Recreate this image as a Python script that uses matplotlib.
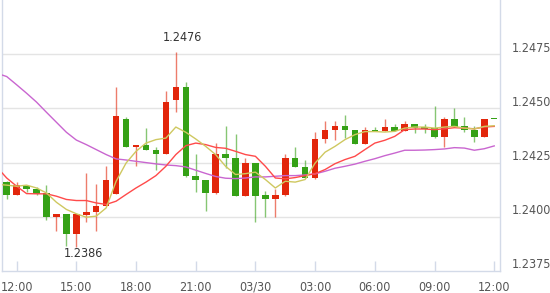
import matplotlib
matplotlib.use("Agg")
import matplotlib.pyplot as plt
from matplotlib import font_manager
from matplotlib.transforms import ScaledTranslation
import numpy as np

# ---------------- data ----------------
tick_labels = ["12:00", "15:00", "18:00", "21:00", "03/30", "03:00", "06:00", "09:00", "12:00"]
tick_index = [1, 7, 13, 19, 25, 31, 37, 43, 49]

opens = [1.24161, 1.24100, 1.24144, 1.24129, 1.24112, 1.23998, 1.24011, 1.23919, 1.24008, 1.24021,
         1.24052, 1.24107, 1.24452, 1.24320, 1.24333, 1.24308, 1.24288, 1.24538, 1.24600, 1.24190,
         1.24172, 1.24110, 1.24290, 1.24273, 1.24098, 1.24248, 1.24101, 1.24080, 1.24100, 1.24273,
         1.24232, 1.24178, 1.24357, 1.24399, 1.24420, 1.24402, 1.24337, 1.24402, 1.24397, 1.24413,
         1.24397, 1.24429, 1.24413, 1.24409, 1.24368, 1.24452, 1.24420, 1.24402, 1.24368, 1.24452]
highs = [1.24165, 1.24160, 1.24146, 1.24137, 1.24146, 1.24011, 1.24011, 1.24011, 1.24202, 1.24153,
         1.24233, 1.24598, 1.24459, 1.24333, 1.24410, 1.24324, 1.24581, 1.24761, 1.24623, 1.24291,
         1.24172, 1.24340, 1.24420, 1.24383, 1.24273, 1.24248, 1.24120, 1.24126, 1.24290, 1.24324,
         1.24264, 1.24393, 1.24443, 1.24443, 1.24471, 1.24402, 1.24413, 1.24413, 1.24452, 1.24429,
         1.24443, 1.24429, 1.24429, 1.24512, 1.24460, 1.24503, 1.24460, 1.24417, 1.24452, 1.24452]
lows = [1.24084, 1.24100, 1.24113, 1.24100, 1.23985, 1.23934, 1.23866, 1.23860, 1.23975, 1.23934,
        1.24052, 1.24103, 1.24320, 1.24233, 1.24307, 1.24215, 1.24288, 1.24483, 1.24183, 1.24113,
        1.24026, 1.24106, 1.24224, 1.24095, 1.24098, 1.23975, 1.24000, 1.24000, 1.24095, 1.24229,
        1.24178, 1.24175, 1.24342, 1.24353, 1.24363, 1.24335, 1.24335, 1.24396, 1.24394, 1.24397,
        1.24397, 1.24387, 1.24387, 1.24363, 1.24322, 1.24414, 1.24393, 1.24344, 1.24368, 1.24452]
closes = [1.24100, 1.24146, 1.24129, 1.24107, 1.23998, 1.24011, 1.23919, 1.24011, 1.24023, 1.24052,
          1.24172, 1.24463, 1.24320, 1.24333, 1.24307, 1.24288, 1.24531, 1.24600, 1.24187, 1.24169,
          1.24110, 1.24290, 1.24270, 1.24098, 1.24248, 1.24098, 1.24080, 1.24101, 1.24273, 1.24229,
          1.24178, 1.24360, 1.24402, 1.24420, 1.24399, 1.24337, 1.24402, 1.24396, 1.24413, 1.24397,
          1.24429, 1.24409, 1.24406, 1.24368, 1.24452, 1.24414, 1.24399, 1.24368, 1.24452, 1.24452]

# moving-average lines, first value belongs to the (hidden) candle before the first one
ma_short = [1.24150, 1.24146, 1.24141, 1.24146, 1.24133, 1.24110, 1.24067, 1.24034, 1.24014, 1.23998,
            1.24003, 1.24041, 1.24164, 1.24248, 1.24302, 1.24340, 1.24356, 1.24363, 1.24414, 1.24390,
            1.24359, 1.24325, 1.24287, 1.24233, 1.24195, 1.24199, 1.24206, 1.24172, 1.24133, 1.24164,
            1.24160, 1.24172, 1.24248, 1.24298, 1.24325, 1.24356, 1.24379, 1.24393, 1.24393, 1.24391,
            1.24394, 1.24409, 1.24414, 1.24414, 1.24409, 1.24414, 1.24417, 1.24409, 1.24405, 1.24417,
            1.24420]
ma_mid = [1.24230, 1.24179, 1.24141, 1.24107, 1.24106, 1.24106, 1.24095, 1.24080, 1.24075, 1.24075,
          1.24064, 1.24057, 1.24072, 1.24103, 1.24133, 1.24160, 1.24190, 1.24233, 1.24287, 1.24328,
          1.24340, 1.24333, 1.24320, 1.24316, 1.24302, 1.24287, 1.24279, 1.24233, 1.24179, 1.24175,
          1.24181, 1.24190, 1.24199, 1.24218, 1.24245, 1.24264, 1.24279, 1.24310, 1.24340, 1.24353,
          1.24371, 1.24402, 1.24405, 1.24405, 1.24402, 1.24406, 1.24411, 1.24409, 1.24406, 1.24414,
          1.24417]
ma_long = [1.24662, 1.24647, 1.24609, 1.24570, 1.24529, 1.24482, 1.24436, 1.24390, 1.24354, 1.24333,
           1.24310, 1.24287, 1.24267, 1.24262, 1.24256, 1.24250, 1.24244, 1.24239, 1.24236, 1.24230,
           1.24215, 1.24200, 1.24186, 1.24178, 1.24176, 1.24179, 1.24184, 1.24184, 1.24187, 1.24190,
           1.24190, 1.24193, 1.24198, 1.24210, 1.24224, 1.24233, 1.24243, 1.24256, 1.24268, 1.24282,
           1.24294, 1.24307, 1.24307, 1.24308, 1.24310, 1.24313, 1.24319, 1.24317, 1.24307, 1.24314,
           1.24327]

y_ticks = [1.2375, 1.2400, 1.2425, 1.2450, 1.2475]

# ---------------- fonts ----------------
names = {f.name for f in font_manager.fontManager.ttflist}
fam = "Liberation Sans Narrow" if "Liberation Sans Narrow" in names else "DejaVu Sans"
plt.rcParams["font.family"] = [fam, "DejaVu Sans"]
if fam == "DejaVu Sans":
    plt.rcParams["font.stretch"] = "condensed"

UP = "#e2260b"
DOWN = "#35a116"
label_color = "#555555"

fig = plt.figure(figsize=(5.5, 2.93), dpi=100)
ax = fig.add_axes([2 / 550, 22 / 293, 498 / 550, 271 / 293])

n = len(opens)
x = np.arange(n)
o = np.array(opens); h = np.array(highs); l = np.array(lows); c = np.array(closes)
up = c > o
cols = np.where(up, UP, DOWN)

# grid
for v in y_ticks[1:]:
    ax.axhline(v, color="#e4e4e4", lw=1.0, zorder=0)

# wicks
ax.vlines(x, l, h, colors=cols, lw=1.0, alpha=0.6, zorder=2)
# bodies
bottoms = np.minimum(o, c)
heights = np.maximum(np.abs(c - o), 0.00004)
ax.bar(x, heights, bottom=bottoms, width=0.65, color=cols, lw=0, zorder=3)

# moving averages
xm = np.arange(-1, n)
ax.plot(xm, ma_long, color="#c966d0", lw=1.0, zorder=4)
ax.plot(xm, ma_mid, color="#ff4a4a", lw=1.0, zorder=4)
ax.plot(xm, ma_short, color="#cfc860", lw=1.0, zorder=4)

ax.set_xlim(-0.47, 49.58)
ax.set_ylim(1.2375, 1.2500)

# max / min annotations
imax = int(np.argmax(h))
imin = int(np.argmin(l))
ax.annotate(f"{h[imax]:.4f}", (imax, h[imax]), xytext=(4.5, 10), textcoords="offset points",
            ha="center", va="center", fontsize=9, color="#333333", zorder=6)
ax.annotate(f"{l[imin]:.4f}", (imin, l[imin]), xytext=(4.8, -4.5), textcoords="offset points",
            ha="center", va="center", fontsize=9, color="#333333", zorder=6)

# axes styling
for s in ["left", "right", "bottom"]:
    ax.spines[s].set_color("#d3dae8")
    ax.spines[s].set_linewidth(1.0)
ax.spines["top"].set_visible(False)

ax.set_xticks(tick_index)
ax.set_xticklabels(tick_labels)
ax.tick_params(axis="x", direction="in", length=7, width=1, color="#d3dae8",
               labelsize=9, labelcolor=label_color, pad=7)
ax.set_yticks([])

offset = ScaledTranslation(12 / 100, 6 / 100, fig.dpi_scale_trans)
for v in y_ticks:
    ax.text(1.0, v, f"{v:.4f}", transform=ax.get_yaxis_transform() + offset,
            ha="left", va="center", fontsize=9, color=label_color, clip_on=False)

fig.savefig("out.png", dpi=100)
